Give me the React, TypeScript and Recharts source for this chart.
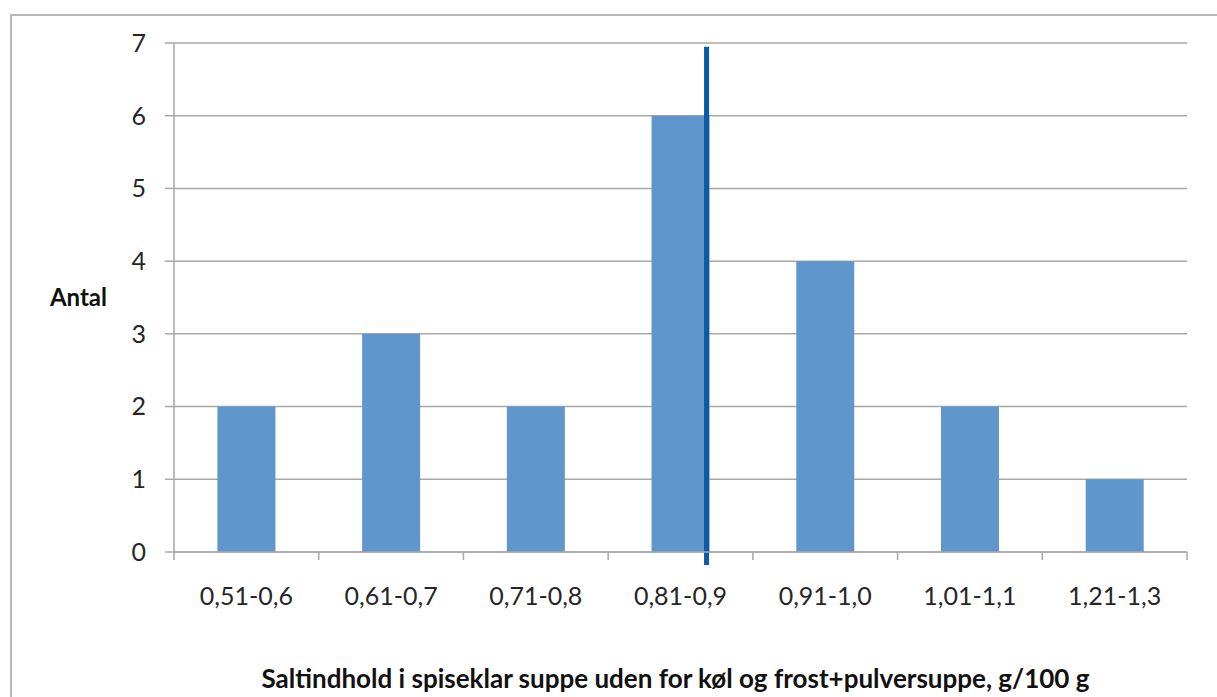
import React from "react";
import {
  BarChart,
  Bar,
  CartesianGrid,
  XAxis,
  YAxis,
  ReferenceLine,
} from "recharts";

const categories = [
  "0,51-0,6",
  "0,61-0,7",
  "0,71-0,8",
  "0,81-0,9",
  "0,91-1,0",
  "1,01-1,1",
  "1,21-1,3",
];
const counts = [2, 3, 2, 6, 4, 2, 1];
const yTicks = [0, 1, 2, 3, 4, 5, 6, 7];
// marker line position, in category units (0 = left edge of first class)
const markerX = 3.68;
const markerSpan = [-0.18, 6.95];

const data = categories.map((name, i) => ({ name, antal: counts[i] }));

const BAR = "#5f96cc";
const MARK = "#0c5aa6";
const GRID = "#a8a8a8";

// category tick: class label in the middle, tick marks on the class boundaries
const XTick = (props: any) => {
  const { x, y, payload, index, visibleTicksCount } = props;
  const half = payload?.offset ?? 0;
  const top = y - 8;
  const last = index === visibleTicksCount - 1;
  return (
    <g>
      <line x1={x - half} x2={x - half} y1={top} y2={y} stroke={GRID} strokeWidth={1.5} />
      {last && (
        <line x1={x + half} x2={x + half} y1={top} y2={y} stroke={GRID} strokeWidth={1.5} />
      )}
      <text x={x} y={y + 45} textAnchor="middle" fill="#262626" fontSize={25}>
        {payload.value}
      </text>
    </g>
  );
};

export default function App() {
  return (
    <div
      style={{
        position: "absolute",
        left: 0,
        top: 0,
        width: 1217,
        height: 697,
        overflow: "hidden",
        background: "#fff",
        fontFamily: "Lato, 'Open Sans', sans-serif",
      }}
    >
      <div
        style={{
          position: "absolute",
          left: 10,
          top: 14,
          width: 1400,
          height: 900,
          border: "2px solid #b8b8b8",
        }}
      />
      <div style={{ position: "absolute", left: 0, top: 0 }}>
        <BarChart
          width={1217}
          height={697}
          data={data}
          margin={{ top: 43, right: 30, bottom: 28, left: 114 }}
          barCategoryGap="30%"
        >
          <CartesianGrid vertical={false} stroke={GRID} strokeWidth={1.5} />
          <XAxis
            xAxisId="cat"
            dataKey="name"
            interval={0}
            height={117}
            tickSize={8}
            tickMargin={0}
            tickLine={false}
            axisLine={{ stroke: GRID, strokeWidth: 1.5 }}
            tick={<XTick />}
            label={{
              value:
                "Saltindhold i spiseklar suppe uden for køl og frost+pulversuppe, g/100 g",
              position: "bottom",
              offset: 1,
              fill: "#111",
              fontSize: 26,
              fontWeight: 700,
              dx: -5,
            }}
          />
          <XAxis
            xAxisId="num"
            type="number"
            dataKey="antal"
            domain={[0, 7]}
            allowDataOverflow
            hide
            height={0}
          />
          <YAxis
            domain={[0, 7]}
            ticks={yTicks}
            interval={0}
            width={60}
            tickSize={9}
            tickMargin={19}
            tickLine={{ stroke: GRID, strokeWidth: 1.5 }}
            axisLine={{ stroke: GRID, strokeWidth: 1.5 }}
            tick={{ fill: "#262626", fontSize: 25 }}
            label={{
              value: "Antal",
              position: "left",
              offset: 7,
              fill: "#111",
              fontSize: 24,
              fontWeight: 700,
            }}
          />
          <Bar
            xAxisId="cat"
            dataKey="antal"
            fill={BAR}
            isAnimationActive={false}
          />
          <ReferenceLine
            xAxisId="num"
            segment={[
              { x: markerX, y: markerSpan[0] },
              { x: markerX, y: markerSpan[1] },
            ]}
            stroke={MARK}
            strokeWidth={5}
            ifOverflow="visible"
          />
        </BarChart>
      </div>
    </div>
  );
}
